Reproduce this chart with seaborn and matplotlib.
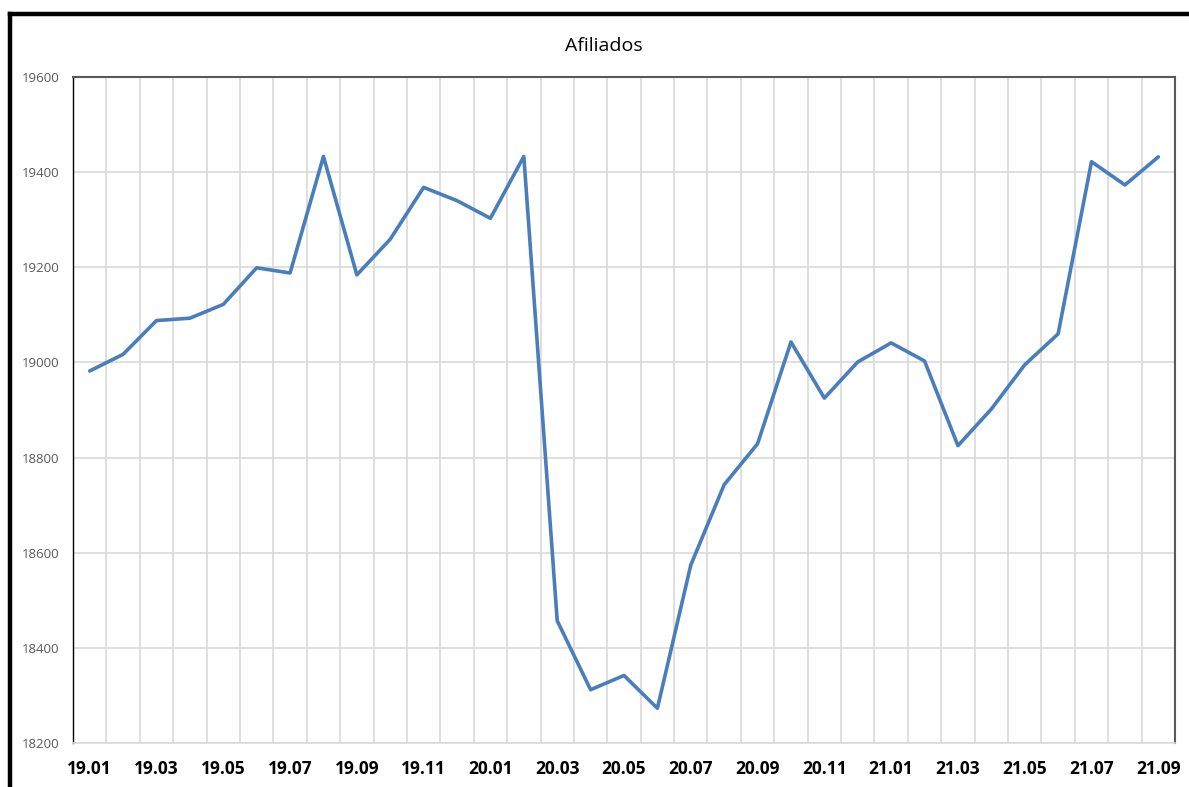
import matplotlib
matplotlib.use("Agg")
import matplotlib.pyplot as plt
from matplotlib.lines import Line2D
from matplotlib.ticker import FixedLocator
import seaborn as sns
import pandas as pd
import numpy as np

months = ["19.01", "19.02", "19.03", "19.04", "19.05", "19.06", "19.07", "19.08",
          "19.09", "19.10", "19.11", "19.12", "20.01", "20.02", "20.03", "20.04",
          "20.05", "20.06", "20.07", "20.08", "20.09", "20.10", "20.11", "20.12",
          "21.01", "21.02", "21.03", "21.04", "21.05", "21.06", "21.07", "21.08",
          "21.09"]
afiliados = [18982, 19017, 19088, 19093, 19122, 19199, 19188, 19433,
             19184, 19259, 19368, 19340, 19303, 19433, 18457, 18312,
             18342, 18273, 18574, 18743, 18829, 19043, 18925, 19001,
             19041, 19003, 18825, 18902, 18995, 19060, 19422, 19373,
             19432]
y_ticks = [18200, 18400, 18600, 18800, 19000, 19200, 19400, 19600]

df = pd.DataFrame({"mes": months, "afiliados": afiliados})

sns.set_theme(style="white")
plt.rcParams["font.family"] = ["Open Sans", "DejaVu Sans"]

fig = plt.figure(figsize=(11.89, 7.87), dpi=100)
ax = fig.add_axes([73 / 1189, 1 - 743 / 787, (1175 - 73) / 1189, (743 - 77) / 787])

sns.lineplot(data=df, x="mes", y="afiliados", ax=ax, color="#4A7EBB",
             linewidth=2.6, sort=False)

n = len(months)
ax.set_xlim(-0.5, n - 0.5)
ax.set_ylim(18200, 19600)
ax.yaxis.set_major_locator(FixedLocator(y_ticks))
ax.set_yticklabels([str(v) for v in y_ticks])

ax.set_xticks(list(range(0, n, 2)))
ax.set_xticklabels(months[::2])
ax.xaxis.set_minor_locator(FixedLocator(np.arange(-0.5, n, 1.0)))

ax.grid(False)
ax.grid(axis="y", which="major", color="#D9D9D9", linewidth=1.2)
ax.grid(axis="x", which="minor", color="#D9D9D9", linewidth=1.2)
ax.set_axisbelow(True)

ax.tick_params(axis="y", which="both", length=0, pad=10, labelsize=9.5,
               labelcolor="#595959")
ax.tick_params(axis="x", which="both", length=0, pad=12, labelsize=12.5,
               labelcolor="black")
for lab in ax.get_xticklabels():
    lab.set_fontweight("bold")

ax.set_xlabel("")
ax.set_ylabel("")

ax.spines["left"].set_color("black")
ax.spines["left"].set_linewidth(1.0)
ax.spines["top"].set_color("#595959")
ax.spines["top"].set_linewidth(1.5)
ax.spines["right"].set_color("#595959")
ax.spines["right"].set_linewidth(1.5)
ax.spines["bottom"].set_color("#D9D9D9")
ax.spines["bottom"].set_linewidth(1.2)

fig.text(604 / 1189, 1 - 51 / 787, "Afiliados", ha="center", va="baseline",
         fontsize=14, color="black")

# outer frame (top and left visible in the reference crop)
fig.add_artist(Line2D([10 / 1189, 10 / 1189], [0, 1 - 14 / 787],
                      transform=fig.transFigure, color="black", linewidth=3.2,
                      solid_capstyle="projecting"))
fig.add_artist(Line2D([10 / 1189, 1], [1 - 14 / 787, 1 - 14 / 787],
                      transform=fig.transFigure, color="black", linewidth=3.2,
                      solid_capstyle="projecting"))

fig.savefig("out.png", dpi=100, facecolor="white")
